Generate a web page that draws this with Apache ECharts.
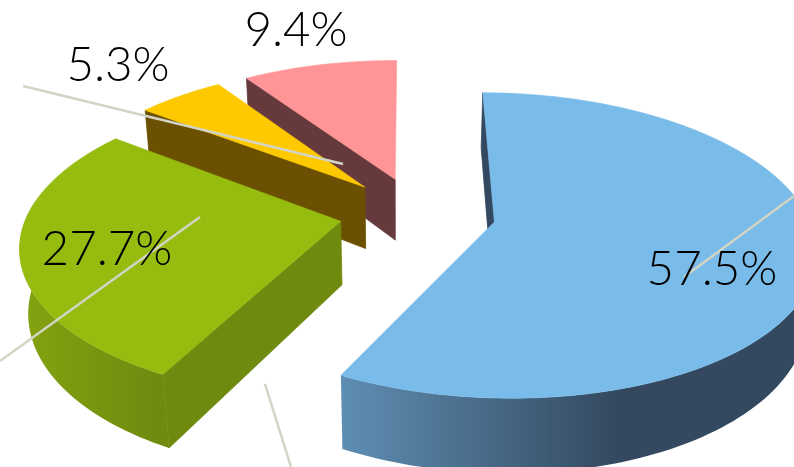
<!DOCTYPE html>
<html>
<head>
<meta charset="utf-8">
<style>html,body{margin:0;padding:0;background:#fff}#chart{width:794px;height:467px}</style>
<script src="https://cdn.jsdelivr.net/npm/echarts@6/dist/echarts.min.js"></script>
</head>
<body>
<div id="chart"></div>
<script>
// Share of each slice, clockwise from the top of the pie.
const sliceValues = [57.5, 27.7, 5.3, 9.4];
const topColors = ['#7ABCE9', '#97BC10', '#FFC900', '#FF9596'];
const wallColors = ['#33495F', '#6E8A0F', '#6A5000', '#663A3D'];
const rimStops = [
  [[0, '#5E8EB3'], [0.58, '#34495F'], [1, '#33495F']],
  [[0, '#84A310'], [0.8, '#728E10'], [1, '#6E8A0F']],
  [[0, '#6A5000'], [1, '#6A5000']],
  [[0, '#663A3D'], [1, '#663A3D']]
];
const labelAnchors = [[712, 270], [107, 250], [118, 66], [296, 31]];
const leaderLines = [
  [794, 196, 684, 277],
  [0, 361, 200, 217],
  [23, 86, 343, 164],
  [265, 384, 291, 467]
];

// Camera and pie geometry; disc units are pie radii.
const view = { x0: 400, y0: 228, rx: 318, ry: 151, k: 0.155, height: 64, converge: 0.00035 };
const pie = { cx: 0.056, cz: 0.1, radius: 1, explode: 0.25, startDeg: 0.2 };
// The outer rim only shows on the part of the arc that faces the viewer.
const rimFacing = 0.15;

function project(X, Z) {
  const s = 1 / (1 + view.k * Z);
  return [view.x0 + view.rx * X * s, view.y0 - view.ry * Z * s, s];
}
function lower(X, Z) {
  const p = project(X, Z);
  const h = view.height * p[2];
  return [p[0] + (view.x0 - p[0]) * h * view.converge, p[1] + h];
}

const total = sliceValues.reduce((a, b) => a + b, 0);
let cursor = pie.startDeg;
const slices = sliceValues.map((v, i) => {
  const a0 = cursor, a1 = cursor + v / total * 360;
  cursor = a1;
  const mid = (a0 + a1) / 2 * Math.PI / 180;
  return {
    index: i, a0, a1,
    ax: pie.cx + pie.explode * Math.sin(mid),
    az: pie.cz + pie.explode * Math.cos(mid)
  };
});

function arcWorld(sl) {
  const pts = [];
  const n = Math.ceil((sl.a1 - sl.a0) / 1.5);
  for (let j = 0; j <= n; j++) {
    const t = (sl.a0 + (sl.a1 - sl.a0) * j / n) * Math.PI / 180;
    pts.push([sl.ax + pie.radius * Math.sin(t), sl.az + pie.radius * Math.cos(t), Math.cos(t)]);
  }
  return pts;
}

function wall(sl, w, fill) {
  return {
    type: 'polygon',
    shape: { points: [project(sl.ax, sl.az).slice(0, 2), project(w[0], w[1]).slice(0, 2), lower(w[0], w[1]), lower(sl.ax, sl.az)] },
    style: { fill, stroke: fill, lineWidth: 0.8 }
  };
}

function renderSlice(params, api) {
  const sl = slices[api.value(0)];
  const i = sl.index;
  const arc = arcWorld(sl);
  const top = arc.map(p => project(p[0], p[1]).slice(0, 2));
  const children = [];
  const front = arc.filter(p => p[2] < rimFacing);
  if (front.length > 1) {
    const rimTop = front.map(p => project(p[0], p[1]).slice(0, 2));
    const rimUnder = front.map(p => lower(p[0], p[1])).reverse();
    children.push({
      type: 'polygon',
      shape: { points: rimTop.concat(rimUnder) },
      style: {
        fill: new echarts.graphic.LinearGradient(0, 0, 1, 0,
          rimStops[i].map(s => ({ offset: s[0], color: s[1] })))
      }
    });
  }
  children.push(wall(sl, arc[0], wallColors[i]));
  children.push({
    type: 'polygon',
    shape: { points: [project(sl.ax, sl.az).slice(0, 2)].concat(top) },
    style: { fill: topColors[i], stroke: topColors[i], lineWidth: 0.6 }
  });
  return { type: 'group', children };
}

function renderNotes(params, api) {
  const i = api.value(0);
  const ln = leaderLines[i];
  const anchor = labelAnchors[i];
  return {
    type: 'group',
    children: [
      {
        type: 'line',
        shape: { x1: ln[0], y1: ln[1], x2: ln[2], y2: ln[3] },
        style: { stroke: '#D2D4C4', lineWidth: 2.5 }
      },
      {
        type: 'text',
        x: anchor[0], y: anchor[1],
        style: {
          text: sliceValues[i].toFixed(1) + '%',
          fill: '#000',
          font: '300 47.5px Lato',
          align: 'center',
          verticalAlign: 'middle'
        }
      }
    ]
  };
}

// Back slices first so nearer ones cover them.
const drawOrder = [3, 2, 1, 0];
const chart = echarts.init(document.getElementById('chart'), null, { renderer: 'canvas' });
chart.setOption({
  animation: false,
  backgroundColor: '#fff',
  series: [
    { type: 'custom', coordinateSystem: 'none', renderItem: renderSlice, data: drawOrder.map(i => [i]), silent: true, z: 1 },
    { type: 'custom', coordinateSystem: 'none', renderItem: renderNotes, data: sliceValues.map((v, i) => [i]), silent: true, z: 2 }
  ]
});
</script>
</body>
</html>
